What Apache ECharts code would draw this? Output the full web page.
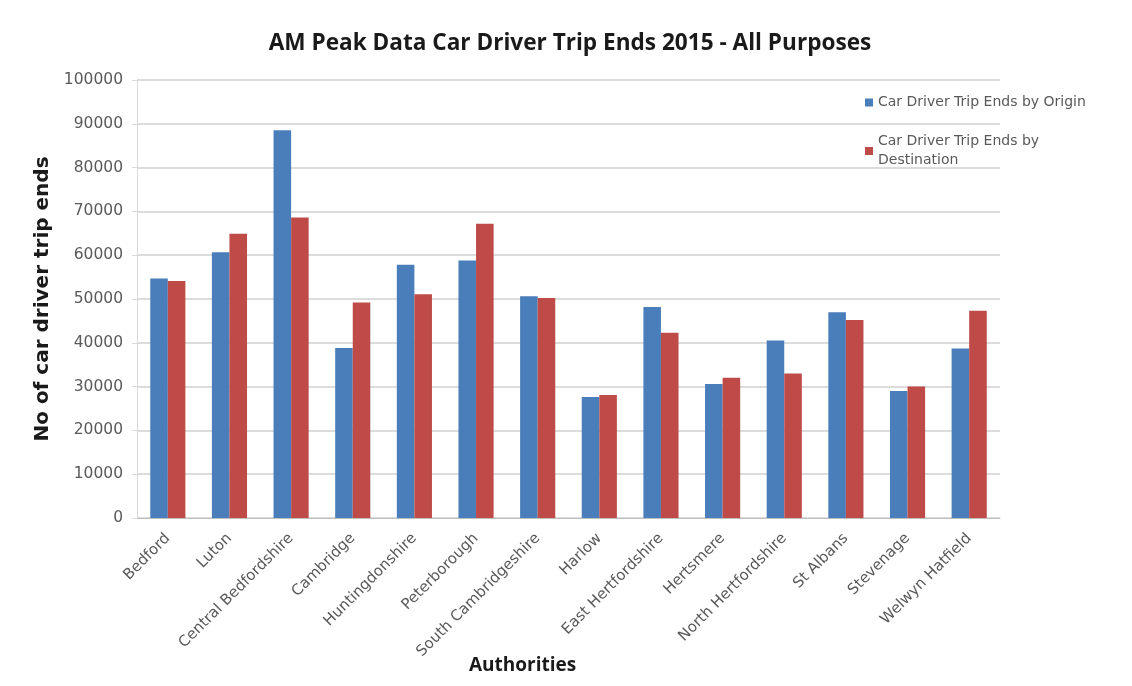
<!DOCTYPE html>
<html>
<head>
<meta charset="utf-8">
<script src="https://cdn.jsdelivr.net/npm/echarts@6/dist/echarts.min.js"></script>
<style>
  html, body { margin: 0; padding: 0; background: #ffffff; }
  #chart { width: 1132px; height: 686px; }
</style>
</head>
<body>
<div id="chart"></div>
<script>
// Local authorities
const authorities = [
  'Bedford', 'Luton', 'Central Bedfordshire', 'Cambridge', 'Huntingdonshire',
  'Peterborough', 'South Cambridgeshire', 'Harlow', 'East Hertfordshire',
  'Hertsmere', 'North Hertfordshire', 'St Albans', 'Stevenage', 'Welwyn Hatfield'
];

// AM peak car driver trip ends, 2015
const tripEndsByOrigin = [
  54700, 60700, 88500, 38800, 57800, 58800, 50600,
  27600, 48200, 30600, 40500, 47000, 29000, 38700
];
const tripEndsByDestination = [
  54100, 64900, 68600, 49200, 51100, 67200, 50200,
  28100, 42300, 32000, 33000, 45200, 30000, 47300
];

const seriesNames = ['Car Driver Trip Ends by Origin', 'Car Driver Trip Ends by Destination'];
const legendLabels = {
  'Car Driver Trip Ends by Origin': 'Car Driver Trip Ends by Origin',
  'Car Driver Trip Ends by Destination': 'Car Driver Trip Ends by\nDestination'
};

const headFont = '"Open Sans", Roboto, sans-serif';
const bodyFont = '"DejaVu Sans", "Open Sans", sans-serif';
const chart = echarts.init(document.getElementById('chart'));

chart.setOption({
  backgroundColor: '#ffffff',
  animation: false,
  textStyle: { fontFamily: bodyFont },
  title: {
    text: 'AM Peak Data Car Driver Trip Ends 2015 - All Purposes',
    left: 565,
    top: 27,
    textAlign: 'center',
    textStyle: { fontSize: 22.6, fontWeight: 'bold', color: '#1a1a1a', fontFamily: headFont }
  },
  legend: {
    orient: 'vertical',
    left: 860,
    top: 88,
    itemGap: 20,
    itemWidth: 8,
    itemHeight: 8,
    icon: 'rect',
    formatter: name => legendLabels[name],
    textStyle: { fontSize: 14, color: '#595959', lineHeight: 19, fontFamily: bodyFont },
    data: seriesNames
  },
  graphic: [{
    type: 'text',
    left: 469,
    top: 656,
    style: {
      text: 'Authorities',
      font: 'bold 19px "Open Sans", Roboto, sans-serif',
      fill: '#1a1a1a'
    }
  }],
  grid: { left: 137, right: 132, top: 80, bottom: 168, containLabel: false },
  xAxis: {
    type: 'category',
    data: authorities,
    axisLine: { show: true, lineStyle: { color: '#bfbfbf', width: 1 } },
    axisTick: { show: false },
    axisLabel: {
      rotate: 45,
      interval: 0,
      margin: 18,
      fontSize: 15,
      color: '#595959',
      fontFamily: bodyFont
    }
  },
  yAxis: {
    type: 'value',
    min: 0,
    max: 100000,
    interval: 10000,
    name: 'No of car driver trip ends',
    nameLocation: 'middle',
    nameGap: 82,
    nameTextStyle: { fontSize: 20, fontWeight: 'bold', color: '#1a1a1a', fontFamily: bodyFont },
    axisLine: { show: true, lineStyle: { color: '#d9d9d9', width: 1 } },
    axisTick: { show: true, length: 5, lineStyle: { color: '#d9d9d9' } },
    splitLine: { show: true, lineStyle: { color: '#d0d0d0', width: 1.5 } },
    axisLabel: {
      fontSize: 15.5,
      color: '#595959',
      margin: 14,
      fontFamily: bodyFont,
      formatter: v => String(v)
    }
  },
  series: [
    {
      name: seriesNames[0],
      type: 'bar',
      data: tripEndsByOrigin,
      barGap: '0%',
      barCategoryGap: '43%',
      itemStyle: { color: '#4a7ebb' }
    },
    {
      name: seriesNames[1],
      type: 'bar',
      data: tripEndsByDestination,
      barGap: '0%',
      barCategoryGap: '43%',
      itemStyle: { color: '#be4b48' }
    }
  ]
});
</script>
</body>
</html>
